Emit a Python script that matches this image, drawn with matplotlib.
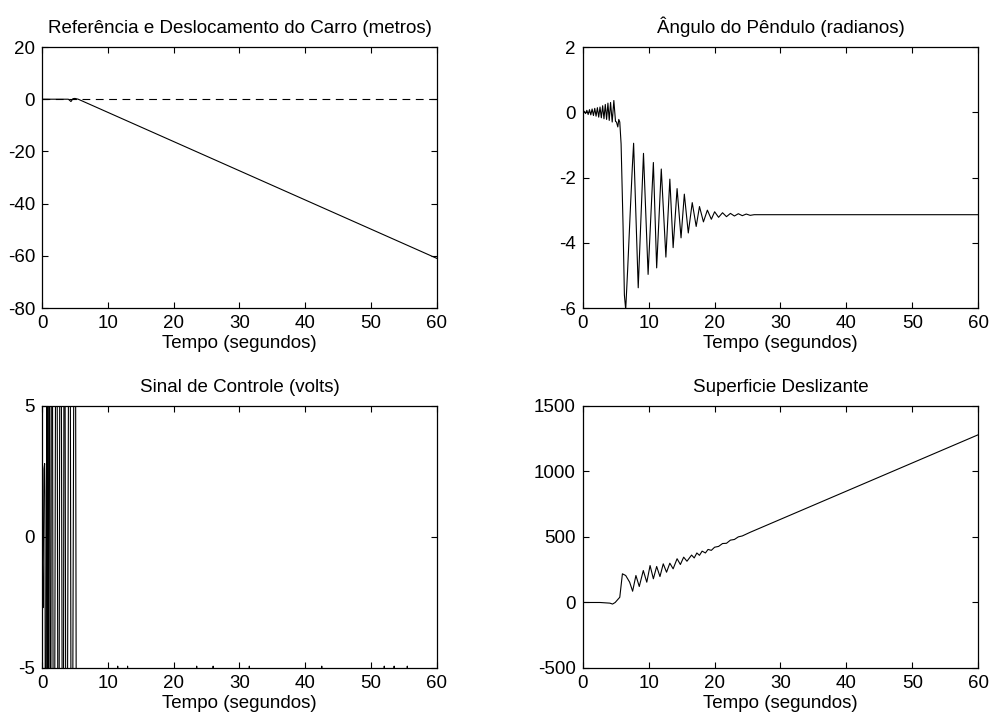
import numpy as np
import matplotlib.pyplot as plt

plt.rcParams['font.family'] = ['Liberation Sans', 'DejaVu Sans']
plt.rcParams['font.size'] = 13.5
plt.rcParams['axes.unicode_minus'] = False

# cart: reference (dashed) and displacement
t_ref = [0, 60]
x_ref = [0, 0]
t_car = [0, 4.0, 4.4, 4.7, 5.0, 5.5, 60]
x_car = [0, 0, -0.9, 0.2, 0.3, 0, -61]

# pendulum angle (rad)
t_ang = [0, 0.2, 0.4, 0.6, 0.8, 1.0, 1.2, 1.4, 1.6, 1.8, 2.0, 2.2, 2.4, 2.6, 2.8,
         3.0, 3.2, 3.4, 3.6, 3.8, 4.0, 4.2, 4.45, 4.7, 4.95, 5.1, 5.3, 5.45, 5.6,
         5.8, 6.1, 6.3, 6.5, 6.8, 7.2, 7.5, 7.7, 8.4, 9.2, 9.9, 10.7, 11.2, 11.9,
         12.6, 13.2, 13.7, 14.3, 14.9, 15.4, 16.0, 16.6, 17.2, 17.7, 18.3, 18.9,
         19.5, 20.0, 20.6, 21.2, 21.8, 22.4, 23.0, 23.6, 24.2, 24.8, 25.4, 26.0, 60]
ang = [0, 0.03, -0.04, 0.06, -0.07, 0.08, -0.08, 0.1, -0.1, 0.12, -0.12, 0.14, -0.15,
       0.16, -0.17, 0.2, -0.2, 0.24, -0.22, 0.28, -0.25, 0.3, -0.3, 0.36, -0.28,
       -0.3, -0.45, -0.22, -0.3, -0.97, -3.5, -5.6, -6.05, -4.8, -3.0, -1.7, -0.95,
       -5.38, -1.26, -4.97, -1.54, -4.77, -1.74, -4.44, -2.05, -4.15, -2.34, -3.85,
       -2.51, -3.7, -2.77, -3.5, -2.89, -3.36, -3.0, -3.28, -3.05, -3.22, -3.08,
       -3.2, -3.1, -3.18, -3.11, -3.17, -3.12, -3.16, -3.14, -3.14]

# control signal (volts), clipped by the axes at +/-5
t_u = [0, 0.1, 0.15, 0.3, 0.4, 0.45, 0.56, 0.7, 0.77, 0.9, 1.08, 1.28, 1.49, 1.79,
       2.2, 2.5, 2.8, 3.2, 3.4, 3.7, 4.2, 4.5, 5.0, 5.3, 5.45,
       11.45, 11.5, 11.55, 12.95, 13.0, 13.05, 23.45, 23.5, 23.55, 25.95, 26.0, 26.05,
       31.45, 31.5, 31.55, 42.45, 42.5, 42.55, 51.95, 52.0, 52.05, 53.45, 53.5, 53.55,
       55.45, 55.5, 55.55, 60]
u = [0, -1.5, -2.7, 2.6, 2.8, 1.6, -20, 2.3, 20, -20, 20, -20, 20, -20,
     20, -20, 20, -20, 20, -20, 20, -20, 20, -20, -20,
     -20, -4.93, -20, -20, -4.93, -20, -20, -4.93, -20, -20, -4.93, -20,
     -20, -4.93, -20, -20, -4.93, -20, -20, -4.93, -20, -20, -4.93, -20,
     -20, -4.93, -20, -20]

# sliding surface
t_s = [0, 2.6, 4.1, 4.5, 4.9, 5.6, 6.0, 6.5, 7.1, 7.55, 8.05, 8.56, 9.17, 9.7, 10.2,
       10.7, 11.2, 11.7, 12.2, 12.7, 13.2, 13.7, 14.3, 14.8, 15.3, 15.8, 16.5, 16.9,
       17.3, 17.7, 18.1, 18.6, 19.0, 19.5, 20.0, 20.6, 21.2, 21.8, 22.4, 23.0, 23.6,
       24.2, 25.4, 60]
s = [0, 0, -5, -12, 0, 40, 219, 206, 155, 86, 206, 122, 244, 155, 282, 181, 275,
     198, 295, 231, 300, 257, 334, 290, 346, 315, 362, 340, 378, 360, 392, 378, 405,
     398, 422, 428, 450, 452, 476, 481, 501, 508, 536, 1280]


def style(ax, xt, yt, ylim):
    ax.set_xlim(0, 60)
    ax.set_ylim(*ylim)
    ax.set_xticks(xt)
    ax.set_yticks(yt)
    ax.tick_params(direction='in', top=True, right=True, length=4, width=0.8,
                   labelsize=13.5, pad=5)
    for sp in ax.spines.values():
        sp.set_linewidth(0.9)


fig = plt.figure(figsize=(9.93, 7.22), dpi=100)
ax1 = fig.add_axes([0.0423, 0.5734, 0.3977, 0.3615])
ax2 = fig.add_axes([0.587, 0.5734, 0.398, 0.3615])
ax3 = fig.add_axes([0.0423, 0.0748, 0.3977, 0.3629])
ax4 = fig.add_axes([0.587, 0.0748, 0.398, 0.3629])

xt = [0, 10, 20, 30, 40, 50, 60]

ax1.plot(t_ref, x_ref, color='k', lw=0.8, dashes=(7, 5))
ax1.plot(t_car, x_car, color='k', lw=0.8)
style(ax1, xt, [-80, -60, -40, -20, 0, 20], (-80, 20))
ax1.set_title('Referência e Deslocamento do Carro (metros)', fontsize=13.5, pad=10)
ax1.set_xlabel('Tempo (segundos)', fontsize=13.5, labelpad=2)

ax2.plot(t_ang, ang, color='k', lw=0.8)
style(ax2, xt, [-6, -4, -2, 0, 2], (-6, 2))
ax2.set_title('Ângulo do Pêndulo (radianos)', fontsize=13.5, pad=10)
ax2.set_xlabel('Tempo (segundos)', fontsize=13.5, labelpad=2)

ax3.plot(t_u, u, color='k', lw=0.8)
style(ax3, xt, [-5, 0, 5], (-5, 5))
ax3.set_title('Sinal de Controle (volts)', fontsize=13.5, pad=10)
ax3.set_xlabel('Tempo (segundos)', fontsize=13.5, labelpad=2)

ax4.plot(t_s, s, color='k', lw=0.8)
style(ax4, xt, [-500, 0, 500, 1000, 1500], (-500, 1500))
ax4.set_title('Superficie Deslizante', fontsize=13.5, pad=10)
ax4.set_xlabel('Tempo (segundos)', fontsize=13.5, labelpad=2)

fig.savefig('out.png', dpi=100)
